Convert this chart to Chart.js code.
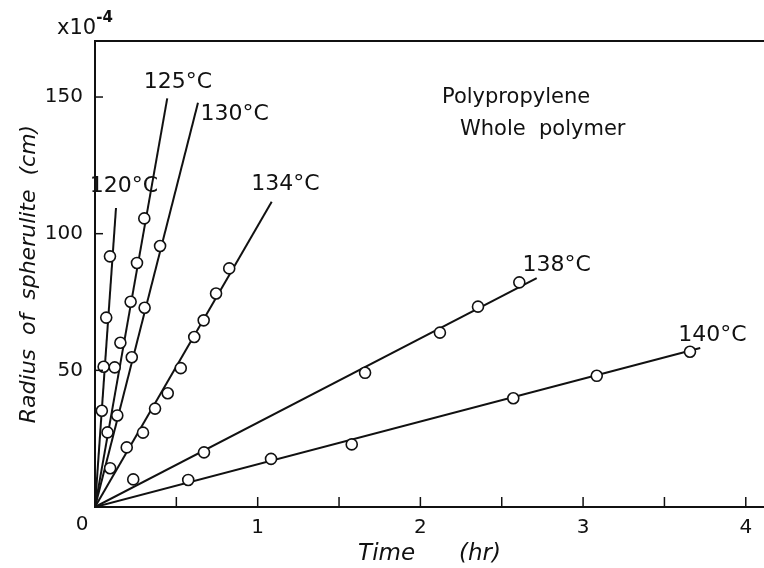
<!DOCTYPE html>
<html>
<head>
<meta charset="utf-8">
<script src="https://cdn.jsdelivr.net/npm/chart.js@4.4.1/dist/chart.umd.min.js"></script>
<style>
  html, body { margin: 0; padding: 0; background: #fff; }
  #wrap { width: 764px; height: 568px; }
</style>
</head>
<body>
<div id="wrap"><canvas id="growth"></canvas></div>
<script>
// Spherulite growth in polypropylene (whole polymer): radius vs. time at six temperatures

const temps = ['120°C', '125°C', '130°C', '134°C', '138°C', '140°C'];

// measured points: time in hr, radius in 10^-4 cm
const time120 = [0.042, 0.053, 0.069, 0.092];
const radius120 = [35.2, 51.3, 69.3, 91.7];

const time125 = [0.077, 0.121, 0.156, 0.219, 0.258, 0.303];
const radius125 = [27.3, 51.1, 60.1, 75.1, 89.3, 105.6];

const time130 = [0.093, 0.137, 0.226, 0.305, 0.40];
const radius130 = [14.2, 33.5, 54.8, 72.9, 95.5];

const time134 = [0.195, 0.295, 0.369, 0.447, 0.527, 0.610, 0.668, 0.744, 0.825];
const radius134 = [21.8, 27.2, 36.0, 41.6, 50.8, 62.2, 68.3, 78.1, 87.3];

const time138 = [0.235, 0.670, 1.66, 2.12, 2.354, 2.608];
const radius138 = [10.1, 20.0, 49.1, 63.8, 73.3, 82.2];

const time140 = [0.573, 1.082, 1.578, 2.571, 3.084, 3.657];
const radius140 = [9.9, 17.6, 22.9, 39.8, 48.0, 56.8];

// straight growth lines run from the origin to these ends
const lineEndTime = [0.129, 0.444, 0.633, 1.086, 2.715, 3.72];
const lineEndRadius = [109.4, 149.5, 147.9, 111.7, 83.7, 58.2];

// axis ticks
const timeTicks = [0, 0.5, 1, 1.5, 2, 2.5, 3, 3.5, 4];
const timeTickLabels = ['', '', '1', '', '2', '', '3', '', '4'];
const radiusTicks = [0, 50, 100, 150];
const radiusTickLabels = ['', '50', '100', '150'];

const allTimes = [time120, time125, time130, time134, time138, time140];
const allRadii = [radius120, radius125, radius130, radius134, radius138, radius140];

// where the temperature tags sit (data units, text centre)
const tagPlace = [[0.178, 117.3], [0.51, 155.3], [0.859, 143.8], [1.171, 118.2], [2.837, 88.5], [3.795, 62.9]];

const INK = '#111';
const FONT = "'DejaVu Sans', 'Liberation Sans', sans-serif";

const datasets = [];
temps.forEach((t, i) => {
    datasets.push({
        type: 'scatter',
        label: t,
        data: allTimes[i].map((x, k) => ({ x: x, y: allRadii[i][k] })),
        pointRadius: 5.5,
        pointBackgroundColor: '#fff',
        pointBorderColor: INK,
        pointBorderWidth: 1.6,
        order: 1
    });
    datasets.push({
        type: 'line',
        label: t + ' fit',
        data: [{ x: 0, y: 0 }, { x: lineEndTime[i], y: lineEndRadius[i] }],
        borderColor: INK,
        borderWidth: 2,
        pointRadius: 0,
        fill: false,
        order: 2
    });
});

const frameAndText = {
    id: 'frameAndText',
    afterDraw(chart) {
        const ctx = chart.ctx;
        const a = chart.chartArea;
        const xs = chart.scales.x;
        const ys = chart.scales.y;
        const x0 = xs.getPixelForValue(0);
        const y0 = ys.getPixelForValue(0);
        ctx.save();
        ctx.strokeStyle = INK;
        ctx.fillStyle = INK;

        // top edge of the frame
        ctx.lineWidth = 1.8;
        ctx.beginPath();
        ctx.moveTo(a.left - 1, a.top);
        ctx.lineTo(a.right, a.top);
        ctx.stroke();

        // tick marks point into the plot
        ctx.lineWidth = 1.5;
        timeTicks.forEach(v => {
            if (v === 0) return;
            const px = xs.getPixelForValue(v);
            ctx.beginPath();
            ctx.moveTo(px, y0);
            ctx.lineTo(px, y0 - 10);
            ctx.stroke();
        });
        radiusTicks.forEach(v => {
            if (v === 0) return;
            const py = ys.getPixelForValue(v);
            ctx.beginPath();
            ctx.moveTo(x0, py);
            ctx.lineTo(x0 + 8, py);
            ctx.stroke();
        });

        // shared origin label
        ctx.font = '20px ' + FONT;
        ctx.textAlign = 'center';
        ctx.textBaseline = 'middle';
        ctx.fillText('0', x0 - 13, y0 + 18);

        // multiplier above the radius axis
        ctx.textAlign = 'left';
        ctx.textBaseline = 'alphabetic';
        ctx.font = '21px ' + FONT;
        ctx.fillText('x10', 57, 34);
        const w = ctx.measureText('x10').width;
        ctx.font = 'bold 15px ' + FONT;
        ctx.fillText('-4', 57 + w, 22);

        // temperature tags
        ctx.font = '22px ' + FONT;
        ctx.textAlign = 'center';
        ctx.textBaseline = 'middle';
        temps.forEach((t, i) => {
            ctx.fillText(t, xs.getPixelForValue(tagPlace[i][0]), ys.getPixelForValue(tagPlace[i][1]));
        });

        // sample note
        ctx.font = '21px ' + FONT;
        ctx.textAlign = 'left';
        ctx.textBaseline = 'alphabetic';
        ctx.fillText('Polypropylene', 442, 103);
        ctx.fillText('Whole  polymer', 460, 135);
        ctx.restore();
    }
};

new Chart(document.getElementById('growth'), {
    data: { datasets: datasets },
    options: {
        responsive: true,
        maintainAspectRatio: false,
        animation: false,
        layout: { autoPadding: false, padding: { top: 41, right: 0, left: 0, bottom: 0 } },
        plugins: {
            legend: { display: false },
            tooltip: { enabled: false }
        },
        scales: {
            x: {
                type: 'linear',
                min: 0,
                max: 4.112,
                afterBuildTicks: s => { s.ticks = timeTicks.map(v => ({ value: v })); },
                afterFit: s => { s.height = 61; },
                grid: { display: false, drawTicks: false },
                border: { display: true, color: INK, width: 2 },
                ticks: {
                    color: INK,
                    font: { family: FONT, size: 20 },
                    padding: 9,
                    maxRotation: 0,
                    autoSkip: false,
                    callback: (v, i) => timeTickLabels[i]
                },
                title: {
                    display: true,
                    text: 'Time      (hr)',
                    color: INK,
                    font: { family: FONT, size: 23, style: 'italic' },
                    padding: { top: 0, bottom: 0 }
                }
            },
            y: {
                type: 'linear',
                min: 0,
                max: 170.5,
                afterBuildTicks: s => { s.ticks = radiusTicks.map(v => ({ value: v })); },
                afterFit: s => { s.width = 95; },
                grid: { display: false, drawTicks: false },
                border: { display: true, color: INK, width: 2 },
                ticks: {
                    color: INK,
                    font: { family: FONT, size: 20 },
                    padding: 12,
                    autoSkip: false,
                    callback: (v, i) => radiusTickLabels[i]
                },
                title: {
                    display: true,
                    text: 'Radius  of  spherulite  (cm)',
                    color: INK,
                    font: { family: FONT, size: 22, style: 'italic' },
                    padding: { top: 16, bottom: 0 }
                }
            }
        }
    },
    plugins: [frameAndText]
});
</script>
</body>
</html>
